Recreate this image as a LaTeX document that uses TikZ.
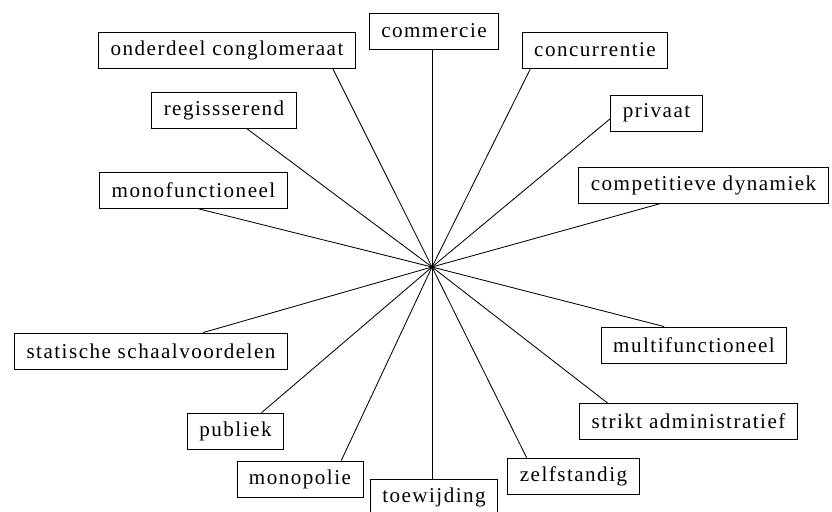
\documentclass[tikz,border=0pt]{standalone}
\usepackage{fontspec}
\setmainfont{Liberation Serif}[LetterSpace=7]
\usetikzlibrary{calc}

\tikzset{
    box/.style={draw, line width=0.6pt, inner xsep=0.3cm, minimum height=0.9cm, font=\fontsize{15}{17}\selectfont},
    spoke/.style={line width=0.6pt}
}

\begin{document}
\begin{tikzpicture}[x=0.025cm, y=-0.025cm]
    \clip (0,0) rectangle (832,511);
    \coordinate (mid) at (432,267);

    \node[box] (ocg) at (227,50)    {onderdeel conglomeraat};
    \node[box] (com) at (434,31)    {commercie};
    \node[box] (con) at (595,50)    {concurrentie};
    \node[box] (reg) at (224,110)   {regissserend};
    \node[box] (pri) at (656.5,113) {privaat};
    \node[box] (mon) at (193.5,190.5) {monofunctioneel};
    \node[box] (cd)  at (703.5,185) {competitieve dynamiek};
    \node[box] (ssv) at (151,351)   {statische schaalvoordelen};
    \node[box] (mf)  at (694,345)   {multifunctioneel};
    \node[box] (pub) at (235.5,431) {publiek};
    \node[box] (sa)  at (688.5,421.5) {strikt administratief};
    \node[box] (mpl) at (300,479)   {monopolie};
    \node[box] (zs)  at (573.5,476) {zelfstandig};
    \node[box] (toe) at (434,497)   {toewijding};

    % spokes from the middle to each box
    \draw[spoke] (mid) -- ($(ocg.south west)!0.91!(ocg.south east)$);
    \draw[spoke] (mid) -- (mid |- com.south);
    \draw[spoke] (mid) -- ($(con.south west)!0.06!(con.south east)$);
    \draw[spoke] (mid) -- ($(reg.south west)!0.655!(reg.south east)$);
    \draw[spoke] (mid) -- ([yshift=-4]pri.west);
    \draw[spoke] (mid) -- ($(mon.south west)!0.53!(mon.south east)$);
    \draw[spoke] (mid) -- ($(cd.south west)!0.33!(cd.south east)$);
    \draw[spoke] (mid) -- ($(ssv.north west)!0.69!(ssv.north east)$);
    \draw[spoke] (mid) -- ($(mf.north west)!0.34!(mf.north east)$);
    \draw[spoke] (mid) -- ($(pub.north west)!0.77!(pub.north east)$);
    \draw[spoke] (mid) -- ($(sa.north west)!0.13!(sa.north east)$);
    \draw[spoke] (mid) -- ($(mpl.north west)!0.825!(mpl.north east)$);
    \draw[spoke] (mid) -- ($(zs.north west)!0.145!(zs.north east)$);
    \draw[spoke] (mid) -- (mid |- toe.north);

\end{tikzpicture}
\end{document}
